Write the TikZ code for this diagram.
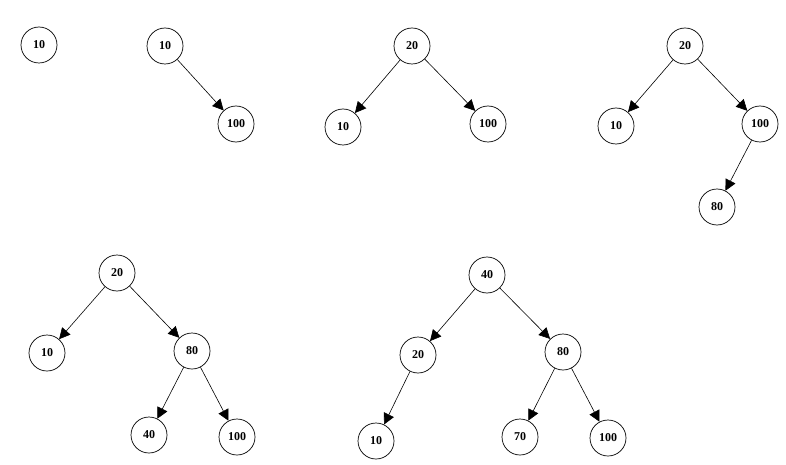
\documentclass[tikz,border=0pt]{standalone}
\usepackage{fontspec}
\setmainfont{Liberation Serif}
\usetikzlibrary{arrows.meta}
\begin{document}
\begin{tikzpicture}[x=1pt,y=-1pt,
  nd/.style={circle,draw,line width=0.7pt,minimum size=36pt,inner sep=0pt,font=\bfseries\fontsize{12}{14}\selectfont},
  ar/.style={line width=0.6pt,-{Triangle[length=11pt,width=11pt]}}]
\useasboundingbox (0,0) rectangle (786,465);
% tree 1
\node[nd] (a1) at (39,45) {10};
% tree 2
\node[nd] (b1) at (165,46) {10};
\node[nd] (b2) at (236,124) {100};
\draw[ar] (b1) -- (b2);
% tree 3
\node[nd] (c1) at (412,46) {20};
\node[nd] (c2) at (343,127) {10};
\node[nd] (c3) at (488,124) {100};
\draw[ar] (c1) -- (c2);
\draw[ar] (c1) -- (c3);
% tree 4
\node[nd] (d1) at (685,46) {20};
\node[nd] (d2) at (616,126) {10};
\node[nd] (d3) at (760,124) {100};
\node[nd] (d4) at (717,207) {80};
\draw[ar] (d1) -- (d2);
\draw[ar] (d1) -- (d3);
\draw[ar] (d3) -- (d4);
% tree 5
\node[nd] (e1) at (117,273) {20};
\node[nd] (e2) at (47,353) {10};
\node[nd] (e3) at (192,351) {80};
\node[nd] (e4) at (149,435) {40};
\node[nd] (e5) at (237,437) {100};
\draw[ar] (e1) -- (e2);
\draw[ar] (e1) -- (e3);
\draw[ar] (e3) -- (e4);
\draw[ar] (e3) -- (e5);
% tree 6
\node[nd] (f1) at (487,275) {40};
\node[nd] (f2) at (418,355) {20};
\node[nd] (f3) at (563,352) {80};
\node[nd] (f4) at (376,441) {10};
\node[nd] (f5) at (520,437) {70};
\node[nd] (f6) at (608,438) {100};
\draw[ar] (f1) -- (f2);
\draw[ar] (f1) -- (f3);
\draw[ar] (f2) -- (f4);
\draw[ar] (f3) -- (f5);
\draw[ar] (f3) -- (f6);
\end{tikzpicture}
\end{document}
